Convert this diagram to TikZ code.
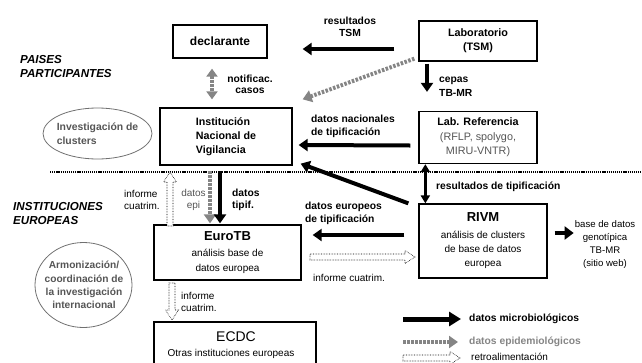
\documentclass[tikz,border=0pt]{standalone}
\usepackage{fontspec}
\setmainfont{Liberation Sans}
\usetikzlibrary{arrows.meta,shapes.geometric,calc}
\definecolor{epigray}{HTML}{858585}
\definecolor{txtgray}{HTML}{555555}
\definecolor{ellgray}{HTML}{707070}
\begin{document}
\begin{tikzpicture}[x=1pt,y=-1pt,
  box/.style={draw, line width=1.3pt, inner sep=2pt, align=center},
  lbl/.style={font=\fontsize{10.3}{12}\selectfont\bfseries, inner sep=0, align=left},
  sm/.style={font=\fontsize{10}{12}\selectfont, inner sep=0, align=left},
  ttl/.style={font=\fontsize{11.6}{14}\selectfont\bfseries\itshape, inner sep=0, align=left},
  ell/.style={draw=ellgray, line width=0.8pt, ellipse, inner sep=0},
  micro/.style={line width=4pt, -{Triangle[length=9pt,width=12pt]}},
  microd/.style={line width=2.6pt, {Triangle[length=8pt,width=9pt]}-{Triangle[length=8pt,width=9pt]}},
  epi/.style={draw=epigray, line width=4pt, dash pattern=on 2.5pt off 1.5pt, -{Triangle[length=9pt,width=12pt,fill=epigray]}},
  epid/.style={draw=epigray, line width=4pt, dash pattern=on 2.5pt off 1.5pt, {Triangle[length=8pt,width=11pt,fill=epigray]}-{Triangle[length=8pt,width=11pt,fill=epigray]}},
  hol/.style={draw, line width=0.6pt, densely dotted, fill=white},
  sepline/.style={line width=1.2pt, dash pattern=on 1.2pt off 0.9pt},
  pics/harr/.style={code={\draw[hol] (0,-3) -- ({#1-10},-3) -- ({#1-10},-6.5) -- (#1,0) -- ({#1-10},6.5) -- ({#1-10},3) -- (0,3) -- cycle;}}
]
\useasboundingbox (0,0) rectangle (642,362);
\clip (0,0) rectangle (642,362);

% separator
\coordinate (sepL) at (50,172);
\coordinate (sepR) at (642,172);
\draw[sepline] (sepL) -- (sepR);

% titles
\node[ttl, anchor=west] (tpais) at (20,67) {PAISES\\PARTICIPANTES};
\node[ttl, anchor=west] (tinst) at (13,213.5) {INSTITUCIONES\\EUROPEAS};

% boxes
\node[box, minimum width=94pt, minimum height=33pt, font=\fontsize{12}{14}\selectfont\bfseries] (decl) at (220,41.5) {declarante};
\node[box, minimum width=118pt, minimum height=40pt, font=\fontsize{10.8}{14}\selectfont\bfseries] (lab) at (478,41) {Laboratorio\\(TSM)};
\node[box, minimum width=132pt, minimum height=57pt, align=left, font=\fontsize{10.7}{14}\selectfont\bfseries] (inv) at (226,136.5) {Institución\\Nacional de\\Vigilancia};
\node[box, minimum width=118pt, minimum height=52pt, font=\fontsize{10.8}{14.5}\selectfont] (ref) at (478,137.5) {\textbf{Lab. Referencia}\\\textcolor{txtgray}{(RFLP, spolygo,}\\\textcolor{txtgray}{MIRU-VNTR)}};
\node[box, minimum width=147pt, minimum height=55pt, font=\fontsize{10}{15}\selectfont] (euro) at (227.5,252.5) {{\fontsize{13}{15}\selectfont\bfseries EuroTB}\\[1pt]análisis base de\\datos europea};
\node[box, minimum width=128pt, minimum height=74pt, font=\fontsize{10}{14}\selectfont] (rivm) at (483,241) {{\fontsize{13}{15}\selectfont\bfseries RIVM}\\[3pt]análisis de clusters\\de base de datos\\europea};
\node[box, minimum width=162pt, minimum height=58pt] (ecdc) at (235,351) {};
\node[font=\fontsize{14}{16}\selectfont, inner sep=0] (ecdct) at (236,337) {ECDC};
\node[font=\fontsize{10}{12}\selectfont, inner sep=0] (ecdcs) at (231,354) {Otras instituciones europeas};

% ellipses
\node[ell, minimum width=109pt, minimum height=51pt] (ell1) at (97.5,133.5) {};
\node[font=\fontsize{10.4}{14}\selectfont\bfseries, text=txtgray, align=left, inner sep=0] (ell1t) at (ell1.center) {Investigación de\\clusters};
\node[ell, minimum width=97pt, minimum height=85pt] (ell2) at (83.5,285) {};
\node[font=\fontsize{10.2}{13.3}\selectfont\bfseries, text=txtgray, align=center, inner sep=0] (ell2t) at (84,285) {Armonización/\\coordinación de\\la investigación\\internacional};

% arrows upper part
\draw[micro] ([xshift=-24pt,yshift=-8pt]lab.west) -- ([xshift=35pt,yshift=-7.5pt]decl.east);
\node[lbl, align=center] (lres) at (350,27) {resultados\\TSM};
\draw[epi] ([xshift=-4pt,yshift=3pt]lab.south west) -- ([xshift=10pt,yshift=8pt]inv.north east);
\draw[micro, line width=4.5pt] ([xshift=-51pt,yshift=-2pt]lab.south) -- ([xshift=-51pt,yshift=19pt]ref.north);
\node[lbl, anchor=west, font=\fontsize{10.3}{14}\selectfont\bfseries] (lcep) at (439,87) {cepas\\TB-MR};
\draw[epid] ([xshift=-8pt,yshift=-10pt]decl.south) -- ([xshift=-14pt,yshift=8pt]inv.north);
\node[lbl, align=center, font=\fontsize{10.3}{11}\selectfont\bfseries] (lnot) at (250,84) {notificac.\\casos};
\draw[micro] ([xshift=-8pt,yshift=-8pt]ref.west) -- ([xshift=6pt,yshift=-8.5pt]inv.east);
\node[lbl, anchor=west, font=\fontsize{10.3}{13}\selectfont\bfseries] (lnac) at (311,126) {datos nacionales\\de tipificación};
\draw[micro] ([xshift=-10pt,yshift=0pt]rivm.north west) -- ([xshift=8pt,yshift=2pt]inv.south east);
\draw[microd] ([xshift=7pt]ref.south west) -- ([xshift=7pt]rivm.north west);
\node[lbl, anchor=west] (lrt) at (436,187) {resultados de tipificación};

% arrows lower part
\coordinate (hup) at (170,226);
\pic[rotate=90] at (hup) {harr=54};
\node[sm, anchor=west] (linf1) at (124,200) {informe\\cuatrim.};
\draw[epi] ([xshift=-17.5pt,yshift=53pt]euro.north) -- ([xshift=-17.5pt,yshift=1pt]euro.north);
\node[sm, align=center, text=txtgray] (lepi) at (193.5,200) {datos\\epi};
\draw[micro, line width=3.5pt] ([xshift=-7.5pt,yshift=53pt]euro.north) -- ([xshift=-7.5pt,yshift=1pt]euro.north);
\node[lbl, anchor=west] (ltip) at (232,200) {datos\\tipif.};
\coordinate (hdn) at (172,283);
\pic[rotate=-90] at (hdn) {harr=37};
\node[sm, anchor=west] (linf2) at (181,302) {informe\\cuatrim.};
\draw[micro] ([xshift=-14pt,yshift=6pt]rivm.west) -- ([xshift=11pt,yshift=17.5pt]euro.east);
\node[lbl, anchor=west, font=\fontsize{10.3}{13}\selectfont\bfseries] (leur) at (305,213.5) {datos europeos\\de tipificación};
\coordinate (hrt) at (310,257);
\pic at (hrt) {harr=105};
\node[sm, anchor=west] (linf3) at (313,278) {informe cuatrim.};
\draw[micro, -{Triangle[length=9pt,width=13pt]}] ([xshift=7pt,yshift=8pt]rivm.east) -- ([xshift=26pt,yshift=8pt]rivm.east);
\node[font=\fontsize{9.6}{12.8}\selectfont, align=center, inner sep=0] (web) at (605,244.5) {base de datos\\genotípica\\TB-MR\\(sitio web)};

% legend
\coordinate (lg1a) at (403,319); \coordinate (lg1b) at (461,319);
\draw[micro, line width=5pt, -{Triangle[length=12pt,width=14pt]}] (lg1a) -- (lg1b);
\node[lbl, anchor=west] (lg1t) at (469,319) {datos microbiológicos};
\coordinate (lg2a) at (403,342); \coordinate (lg2b) at (458,342);
\draw[epi] (lg2a) -- (lg2b);
\node[lbl, anchor=west, text=epigray] (lg2t) at (469,342) {datos epidemiológicos};
\coordinate (lg3a) at (403,358);
\pic at (lg3a) {harr=57};
\node[sm, anchor=west] (lg3t) at (471,356.5) {retroalimentación};
\end{tikzpicture}
\end{document}
